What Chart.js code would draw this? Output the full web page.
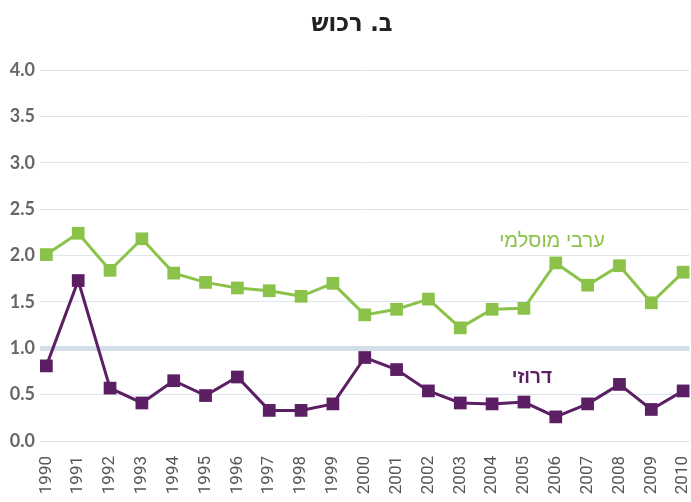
<!DOCTYPE html>
<html lang="he">
<head>
<meta charset="utf-8">
<script src="https://cdn.jsdelivr.net/npm/chart.js@4.4.0/dist/chart.umd.min.js"></script>
<style>
  html, body { margin: 0; padding: 0; background: #fff; overflow: hidden; }
  canvas { display: block; }
</style>
</head>
<body>
<canvas id="myChart" width="691" height="502"></canvas>
<script>
// שנים וערכים
const years = ['1990', '1991', '1992', '1993', '1994', '1995', '1996', '1997', '1998', '1999', '2000',
               '2001', '2002', '2003', '2004', '2005', '2006', '2007', '2008', '2009', '2010'];
const arabMuslim = [2.01, 2.24, 1.84, 2.18, 1.81, 1.71, 1.65, 1.62, 1.56, 1.70, 1.36,
                    1.42, 1.53, 1.22, 1.42, 1.43, 1.92, 1.68, 1.89, 1.49, 1.82];
const druze = [0.81, 1.73, 0.57, 0.41, 0.65, 0.49, 0.69, 0.33, 0.33, 0.40, 0.90,
               0.77, 0.54, 0.41, 0.40, 0.42, 0.26, 0.40, 0.61, 0.34, 0.54];
const yTicks = [0, 0.5, 1, 1.5, 2, 2.5, 3, 3.5, 4];

const greenColor = '#8bc34a';
const purpleColor = '#5c1f63';

// כותרת ושמות הסדרות
const textPlugin = {
    id: 'textPlugin',
    afterDraw(chart) {
        const ctx = chart.ctx;
        const x = chart.scales.x;
        const y = chart.scales.y;
        ctx.save();
        ctx.direction = 'rtl';
        ctx.textAlign = 'center';
        ctx.textBaseline = 'middle';

        ctx.fillStyle = '#222';
        ctx.font = 'bold 25px "DejaVu Sans Condensed"';
        ctx.fillText('ב. רכוש', 352, 24);

        ctx.fillStyle = greenColor;
        ctx.font = '20px "Liberation Sans"';
        ctx.fillText('ערבי מוסלמי', x.getPixelForValue(15.88), y.getPixelForValue(2.15));

        ctx.fillStyle = purpleColor;
        ctx.font = 'bold 19px "Liberation Sans"';
        ctx.fillText('דרוזי', x.getPixelForValue(15.25), y.getPixelForValue(0.68));
        ctx.restore();
    }
};

const ctx = document.getElementById('myChart').getContext('2d');

new Chart(ctx, {
    type: 'line',
    data: {
        datasets: [{
            label: 'ערבי מוסלמי',
            data: arabMuslim.map((v, i) => ({ x: i, y: v })),
            borderColor: greenColor,
            backgroundColor: greenColor,
            borderWidth: 3,
            pointStyle: 'rect',
            pointRadius: 9,
            pointBorderWidth: 0,
            clip: false
        }, {
            label: 'דרוזי',
            data: druze.map((v, i) => ({ x: i, y: v })),
            borderColor: purpleColor,
            backgroundColor: purpleColor,
            borderWidth: 3,
            pointStyle: 'rect',
            pointRadius: 9,
            pointBorderWidth: 0,
            clip: false
        }]
    },
    options: {
        responsive: false,
        animation: false,
        layout: {
            autoPadding: false,
            padding: { top: 70, right: 1.5, left: 0, bottom: 3 }
        },
        scales: {
            x: {
                type: 'linear',
                min: -0.2,
                max: years.length - 1 + 0.2,
                afterFit: (scale) => {
                    scale.paddingLeft = 0;
                    scale.paddingRight = 0;
                    scale.height = 58;
                },
                grid: { display: false },
                border: { display: false },
                ticks: {
                    stepSize: 1,
                    includeBounds: false,
                    autoSkip: false,
                    maxRotation: 90,
                    minRotation: 90,
                    padding: 7,
                    color: '#555',
                    font: { family: 'Roboto', size: 17 },
                    callback: (v) => years[v]
                }
            },
            y: {
                min: 0,
                max: 4,
                afterBuildTicks: (scale) => {
                    scale.ticks = yTicks.map(v => ({ value: v }));
                },
                afterFit: (scale) => { scale.width = 40; },
                grid: {
                    drawTicks: false,
                    color: (c) => c.tick.value === 1 ? '#d3dfe8' : (c.tick.value === 0 ? '#e2e2e2' : '#dce6ee'),
                    lineWidth: (c) => c.tick.value === 1 ? 5 : 1
                },
                border: { display: false },
                ticks: {
                    padding: 5,
                    color: '#666',
                    font: { family: 'Lato', size: 18, weight: 'bold' },
                    callback: (v) => v.toFixed(1)
                }
            }
        },
        plugins: {
            legend: { display: false },
            tooltip: { enabled: false },
            title: { display: false }
        }
    },
    plugins: [textPlugin]
});
</script>
</body>
</html>
